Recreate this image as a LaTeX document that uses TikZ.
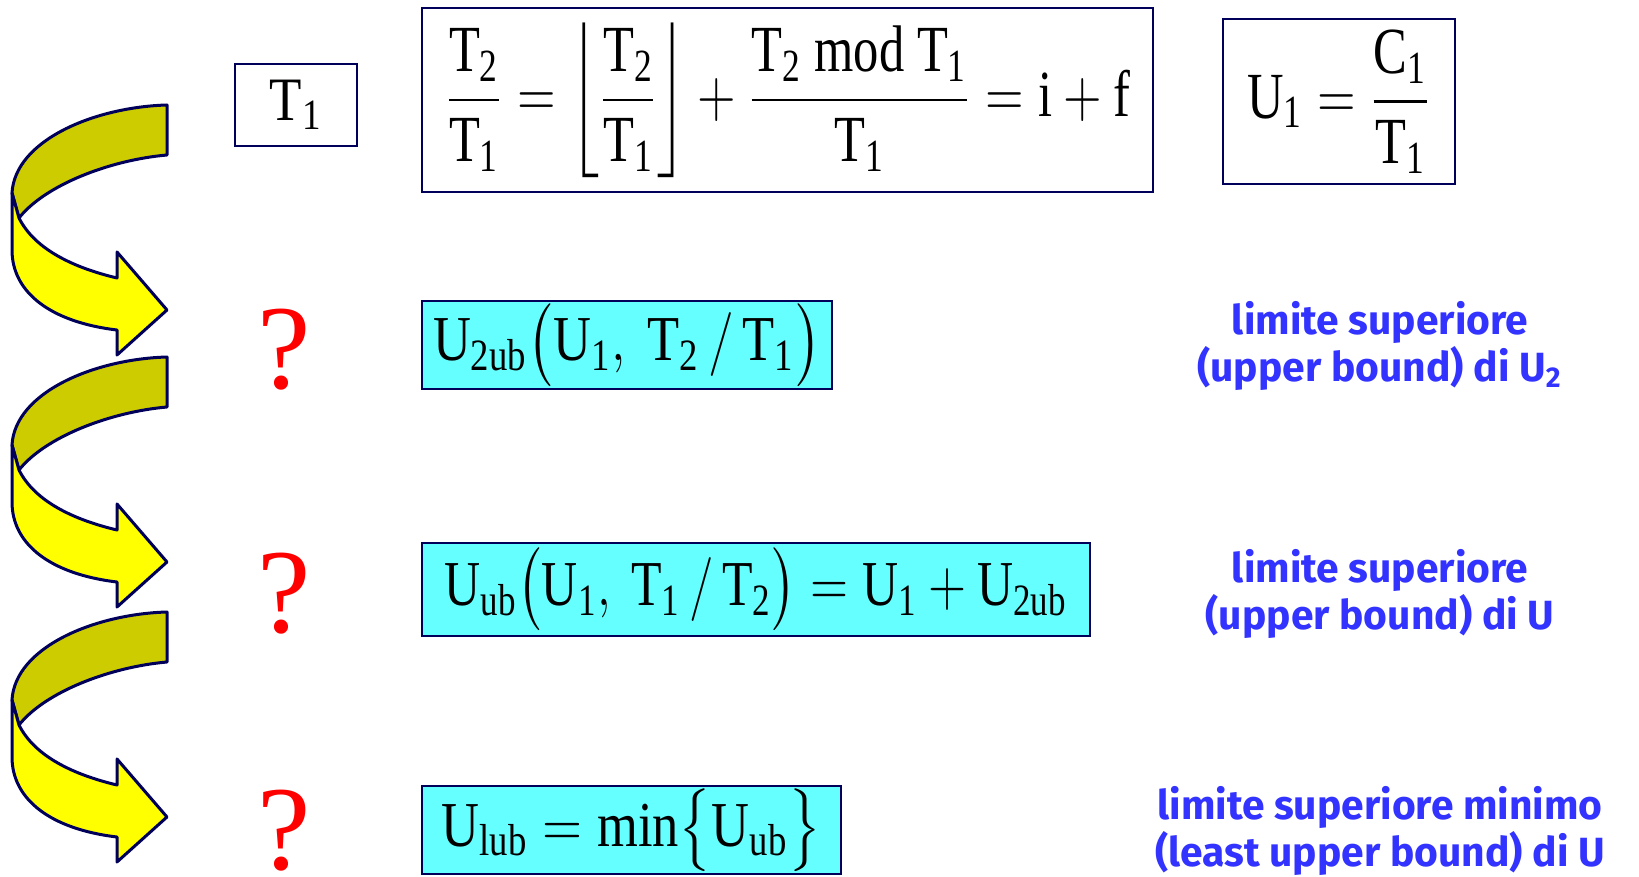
\RequirePackage{fix-cm}
\documentclass[tikz,border=0pt]{standalone}
\usepackage{amsmath}
\usepackage{graphicx}
\usepackage{fontspec}
\setmainfont{Liberation Serif}
\newfontfamily\lblfont{Fira Sans}
\definecolor{navy}{RGB}{0,0,90}
\definecolor{cyanfill}{RGB}{102,255,255}
\definecolor{darkyel}{RGB}{204,204,0}
\definecolor{yel}{RGB}{255,255,0}
\definecolor{lblue}{RGB}{51,51,255}
\newcommand{\eqtop}[1]{\scalebox{0.86}[1.12]{#1}}
\newcommand{\eqcyan}[2][0.82]{\scalebox{#1}[1]{#2}}
\tikzset{
  box/.style={draw=navy, line width=0.5pt, inner sep=0pt, font=\fontsize{14.7}{17}\selectfont},
  cbox/.style={box, fill=cyanfill, font=\fontsize{16}{19}\selectfont},
  qmark/.style={text=red, inner sep=0pt, font=\fontsize{30}{36}\selectfont},
  lbl/.style={text=lblue, align=center, inner sep=0pt, font=\lblfont\bfseries\fontsize{10.2}{11.75}\selectfont},
  arrowline/.style={draw=navy, line width=0.75pt, line join=round}
}
\begin{document}
\begin{tikzpicture}[x=0.25pt, y=-0.25pt]
\useasboundingbox (0,0) rectangle (1639,877);
% curved arrows
\foreach \dy in {0,252,507}{
\begin{scope}[shift={(0,\dy)}]
  \filldraw[arrowline, fill=darkyel] (167,105) .. controls (95,107) and (15,140) .. (12,193)
     -- (19,218) .. controls (45,185) and (110,160) .. (167,155) -- cycle;
  \filldraw[arrowline, fill=yel] (12,193) -- (12,250) .. controls (12,292) and (50,322) .. (117,330)
     -- (117,355) -- (167,310) -- (117,252) -- (117,278)
     .. controls (75,268) and (35,250) .. (19,218) -- cycle;
\end{scope}
}
% top row
\node (t1) [box, minimum width=30.5pt, minimum height=20.5pt] at (296,105) {\scalebox{0.9}[1.05]{$\mathrm{T_1}$}};
\node (eq) [box, minimum width=182.75pt, minimum height=46pt] at (787.5,100)
  {\eqtop{$\dfrac{\mathrm{T_2}}{\mathrm{T_1}}=\left\lfloor\dfrac{\mathrm{T_2}}{\mathrm{T_1}}\right\rfloor+\dfrac{\mathrm{T_2\ mod\ T_1}}{\mathrm{T_1}}=\mathrm{i}+\mathrm{f}$}};
\node (u1) [box, minimum width=58pt, minimum height=41.25pt] at (1339,101.5)
  {\eqtop{$\mathrm{U_1}=\dfrac{\mathrm{C_1}}{\mathrm{T_1}}$}};
% cyan boxes
\node (c1) [cbox, minimum width=102.5pt, minimum height=22pt] at (627,345)
  {\eqcyan{$\mathrm{U_{2ub}}\bigl(\mathrm{U_1},\ \mathrm{T_2}\,/\,\mathrm{T_1}\bigr)$}};
\node (c2) [cbox, minimum width=167pt, minimum height=23.25pt] at (756,589.5)
  {\eqcyan[0.78]{$\mathrm{U_{ub}}\bigl(\mathrm{U_1},\ \mathrm{T_1}\,/\,\mathrm{T_2}\bigr)=\mathrm{U_1}+\mathrm{U_{2ub}}$}};
\node (c3) [cbox, minimum width=104.75pt, minimum height=22pt] at (631.5,830)
  {\eqcyan{$\mathrm{U_{lub}}=\min\bigl\{\mathrm{U_{ub}}\bigr\}$}};
% question marks
\node (q1) [qmark] at (284,350) {?};
\node (q2) [qmark] at (284,594) {?};
\node (q3) [qmark] at (284,831) {?};
% labels
\node (l1) [lbl] at (1380,346) {limite superiore\\(upper bound) di U\textsubscript{2}};
\node (l2) [lbl] at (1380,594) {limite superiore\\(upper bound) di U};
\node (l3) [lbl] at (1380,831) {limite superiore minimo\\(least upper bound) di U};
\end{tikzpicture}
\end{document}
